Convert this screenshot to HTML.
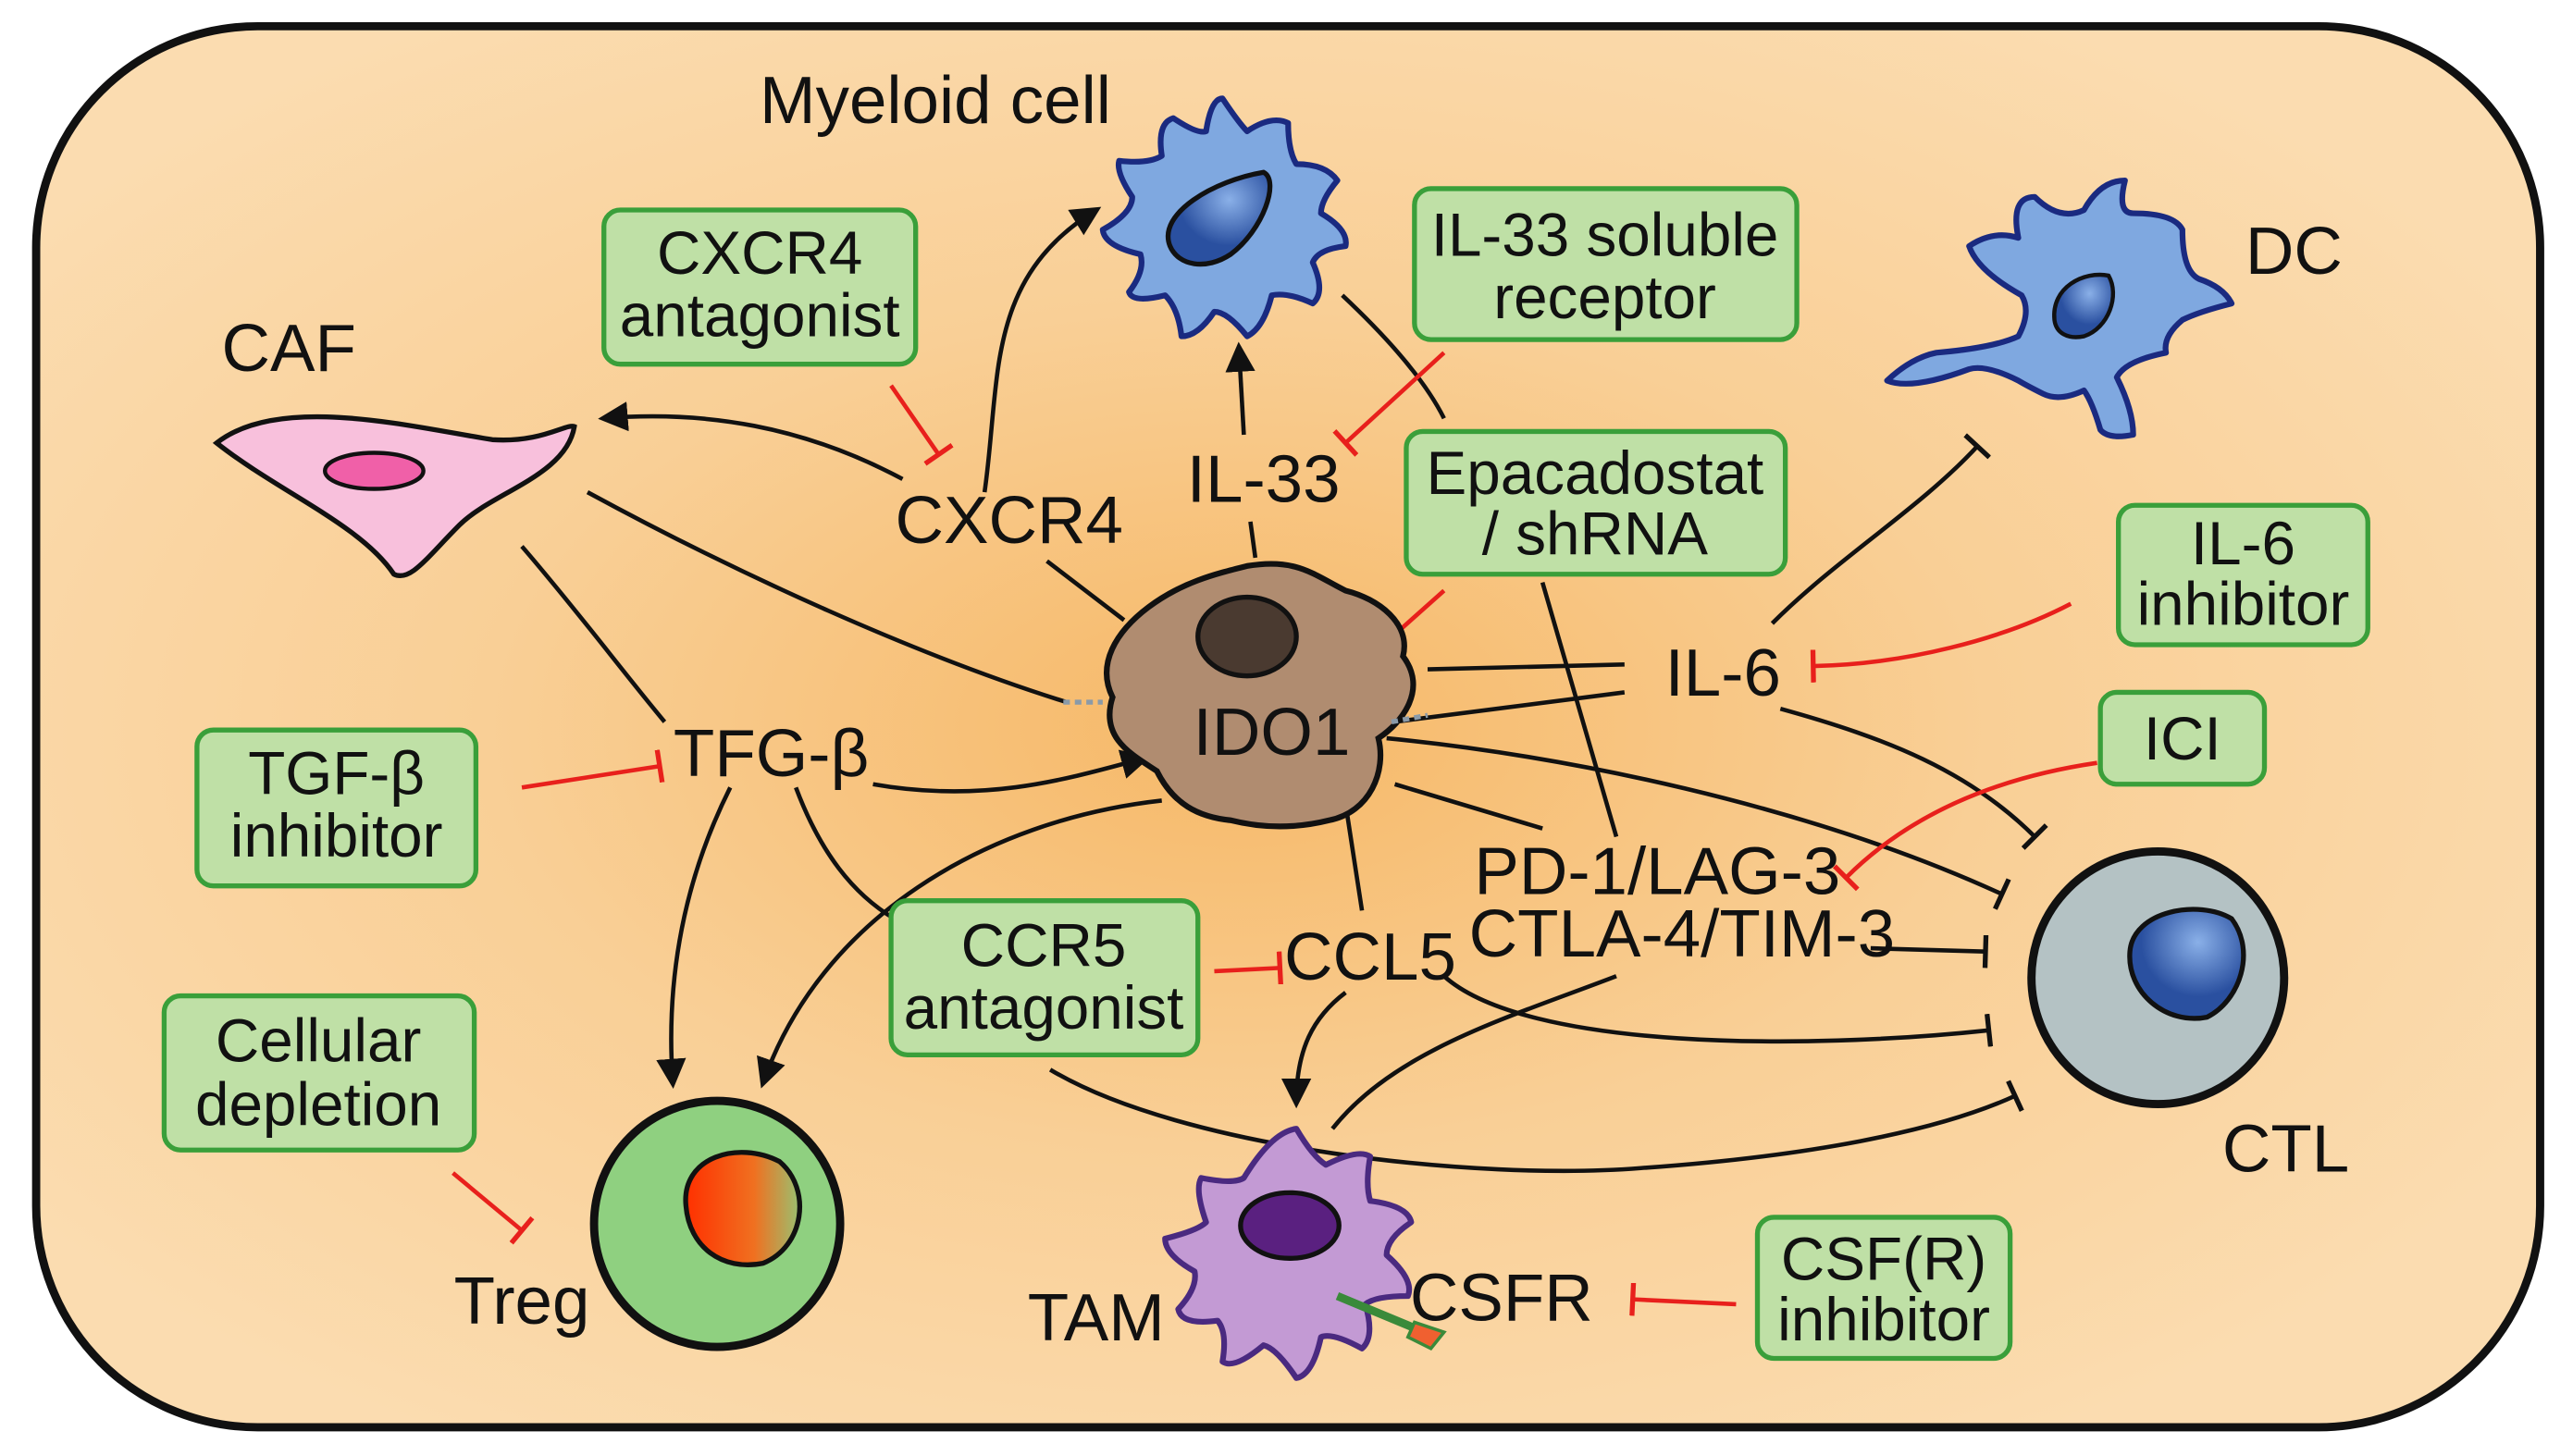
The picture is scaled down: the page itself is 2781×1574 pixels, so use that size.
<!DOCTYPE html>
<html><head><meta charset="utf-8"><style>
html,body{margin:0;padding:0;background:#fff;}
svg{display:block;}
text{font-family:"Liberation Sans",sans-serif;fill:#111;}
.box{fill:#bfe0a6;stroke:#3a9f3a;stroke-width:3;}
.bt{font-size:37px;text-anchor:middle;}
.lb{font-size:41px;text-anchor:middle;}
.k{fill:none;stroke:#111;stroke-width:2.6;}
.r{fill:none;stroke:#e8201c;stroke-width:2.6;}
</style></head><body>
<svg width="2781" height="1574" viewBox="0 0 1568 887.5" xmlns="http://www.w3.org/2000/svg">
<defs>
<radialGradient id="bg" cx="0.48" cy="0.5" r="0.6">
<stop offset="0" stop-color="#f6b867"/><stop offset="0.5" stop-color="#f9cf96"/><stop offset="1" stop-color="#fbdcb0"/>
</radialGradient>
<linearGradient id="tr" x1="0" x2="1"><stop offset="0" stop-color="#ff3000"/><stop offset="0.6" stop-color="#f07020"/><stop offset="1" stop-color="#9ac070"/></linearGradient>
<radialGradient id="nb" cx="0.6" cy="0.3"><stop offset="0" stop-color="#8ab0e8"/><stop offset="1" stop-color="#2a50a0"/></radialGradient>
<marker id="a" viewBox="0 0 10 10" refX="8" refY="5" markerWidth="7" markerHeight="7" orient="auto"><path d="M0,0 L10,5 L0,10 z" fill="#111"/></marker>
<marker id="t" viewBox="0 0 4 20" refX="2" refY="10" markerWidth="4" markerHeight="20" markerUnits="userSpaceOnUse" orient="auto"><path d="M2,0 L2,20" stroke="#111" stroke-width="3"/></marker>
<marker id="tr2" viewBox="0 0 4 20" refX="2" refY="10" markerWidth="4" markerHeight="20" markerUnits="userSpaceOnUse" orient="auto"><path d="M2,0 L2,20" stroke="#e8201c" stroke-width="3"/></marker>
</defs>
<rect x="22" y="16" width="1526" height="854" rx="135" fill="url(#bg)" stroke="#111" stroke-width="5"/>

<path class="k" d="M600,300 C610,230 600,170 668,128" marker-end="url(#a)"/>
<path class="k" d="M550,292 C490,260 430,250 368,255" marker-end="url(#a)"/>
<path class="k" d="M638,342 L685,378"/>
<path class="k" d="M358,300 C450,350 560,400 650,428"/>
<path class="k" d="M318,333 C350,370 380,410 405,440"/>
<path class="k" d="M765,340 L762,318"/>
<path class="k" d="M758,265 L755,212" marker-end="url(#a)"/>
<path class="k" d="M818,180 C850,210 870,235 880,255"/>
<path class="k" d="M940,355 L985,510"/>
<path class="k" d="M1080,380 C1120,340 1170,310 1205,272" marker-end="url(#t)"/>
<path class="k" d="M870,408 L990,405"/>
<path class="k" d="M850,440 L990,422"/>
<path class="k" d="M1085,432 C1150,450 1200,470 1240,510" marker-end="url(#t)"/>
<path class="k" d="M845,450 C950,460 1100,490 1220,545" marker-end="url(#t)"/>
<path class="k" d="M850,478 L940,505"/>
<path class="k" d="M1140,578 L1210,580" marker-end="url(#t)"/>
<path class="k" d="M532,478 C600,490 650,475 698,462" marker-end="url(#a)"/>
<path class="k" d="M445,480 C420,530 405,590 410,660" marker-end="url(#a)"/>
<path class="k" d="M485,480 C500,520 520,545 545,560"/>
<path class="k" d="M708,488 C600,500 500,560 465,660" marker-end="url(#a)"/>
<path class="k" d="M820,490 L830,555"/>
<path class="k" d="M820,605 C800,620 790,640 790,672" marker-end="url(#a)"/>
<path class="k" d="M880,595 C930,640 1100,640 1212,628" marker-end="url(#t)"/>
<path class="k" d="M985,595 C920,620 850,640 812,688"/>
<path class="k" d="M640,652 C720,700 900,720 1000,712 C1100,705 1180,690 1228,668" marker-end="url(#t)"/>

<path class="r" d="M543,235 L572,277" marker-end="url(#tr2)"/>
<path class="r" d="M880,215 L820,270" marker-end="url(#tr2)"/>
<path class="r" d="M880,360 L815,418" marker-end="url(#tr2)"/>
<path class="r" d="M1262,368 C1220,390 1160,405 1105,406" marker-end="url(#tr2)"/>
<path class="r" d="M1278,465 C1210,475 1160,500 1125,535" marker-end="url(#tr2)"/>
<path class="r" d="M318,480 L402,467" marker-end="url(#tr2)"/>
<path class="r" d="M740,592 L780,590" marker-end="url(#tr2)"/>
<path class="r" d="M276,715 L318,750" marker-end="url(#tr2)"/>
<path class="r" d="M1058,795 L995,792" marker-end="url(#tr2)"/>

<path d="M132,270 C170,240 250,260 300,268 C330,270 345,258 350,260 C345,290 300,300 280,320 C260,340 250,355 240,350 C220,320 170,300 132,270 z" fill="#f8c0dc" stroke="#111" stroke-width="3"/>
<ellipse cx="228" cy="287" rx="30" ry="11" fill="#f060a8" stroke="#111" stroke-width="2.5"/>

<path d="M745,60 Q755,75 760,80 Q775,70 785,75 Q785,92 790,100 Q808,100 815,110 Q805,122 805,130 Q822,140 820,150 Q803,152 800,160 Q808,178 800,185 Q785,178 775,180 Q770,200 760,205 Q748,190 740,190 Q730,205 720,205 Q718,188 710,180 Q690,185 688,178 Q698,165 695,155 Q673,150 672,140 Q690,130 690,120 Q680,105 682,98 Q700,100 708,95 Q705,75 715,72 Q730,82 735,80 Q738,60 745,60 z" fill="#7fa8e0" stroke="#1a2a80" stroke-width="3.5" stroke-linejoin="round"/>
<path d="M713,150 C705,130 740,110 770,105 C780,110 770,140 750,155 C735,165 718,162 713,150 z" fill="url(#nb)" stroke="#111" stroke-width="3"/>

<path d="M1200,150 Q1215,140 1230,145 Q1225,120 1240,120 Q1255,135 1270,128 Q1280,110 1295,110 Q1290,130 1300,130 Q1325,130 1330,140 Q1330,165 1340,170 Q1355,175 1360,185 Q1340,190 1330,195 Q1318,205 1320,215 Q1295,220 1290,230 Q1300,250 1300,265 Q1285,268 1280,262 Q1275,245 1270,238 Q1255,245 1245,240 Q1235,235 1230,232 Q1210,222 1200,225 Q1165,238 1150,232 Q1165,218 1180,215 Q1215,212 1230,205 Q1238,190 1232,180 Q1205,165 1200,150 z" fill="#7fa8e0" stroke="#1a2a80" stroke-width="3.5" stroke-linejoin="round"/>
<path d="M1252,195 C1250,175 1270,165 1285,168 C1292,180 1285,200 1270,205 C1260,207 1253,203 1252,195 z" fill="url(#nb)" stroke="#111" stroke-width="2.5"/>

<path d="M700,370 C720,355 740,350 760,345 C790,340 800,350 820,360 C840,365 860,380 855,400 C870,420 855,440 840,450 C845,470 835,495 810,500 C790,505 770,505 750,500 C730,498 715,490 705,470 C690,460 670,450 678,425 C668,405 680,385 700,370 z" fill="#b08c70" stroke="#111" stroke-width="3.5"/>
<ellipse cx="760" cy="388" rx="30" ry="24" fill="#4a3a30" stroke="#111" stroke-width="3"/>
<path d="M648,428 L672,428 M848,440 L870,436" stroke="#8a9aa8" stroke-width="3" stroke-dasharray="4 3"/>

<circle cx="1315" cy="596" r="77" fill="#b4c2c4" stroke="#111" stroke-width="5"/>
<path d="M1298,580 C1300,555 1340,548 1360,560 C1375,580 1365,610 1345,620 C1320,625 1296,605 1298,580 z" fill="url(#nb)" stroke="#111" stroke-width="3"/>

<circle cx="437" cy="746" r="75" fill="#8fd080" stroke="#111" stroke-width="5"/>
<path d="M418,735 C415,705 450,695 475,708 C495,725 490,760 465,770 C440,775 420,760 418,735 z" fill="url(#tr)" stroke="#111" stroke-width="3"/>

<path d="M790,688 Q800,705 808,710 Q828,700 835,705 Q832,722 835,732 Q858,735 860,745 Q845,755 845,765 Q862,780 858,790 Q838,790 832,795 Q838,815 830,822 Q812,812 805,815 Q800,838 790,840 Q778,822 770,820 Q752,835 745,830 Q748,812 742,805 Q720,808 718,798 Q730,785 728,775 Q710,765 710,755 Q730,750 735,745 Q728,725 732,718 Q752,722 758,718 Q775,690 790,688 z" fill="#c39ad4" stroke="#4a2a80" stroke-width="3.5" stroke-linejoin="round"/>
<ellipse cx="786" cy="747" rx="30" ry="20" fill="#5a2080" stroke="#111" stroke-width="3"/>
<path d="M815,790 L868,812" stroke="#3a8a3a" stroke-width="5"/>
<path d="M862,806 L880,812 L872,822 L858,815 z" fill="#f06030" stroke="#3a8a3a" stroke-width="2"/>

<rect class="box" x="368" y="128" width="190" height="94" rx="10"/>
<text class="bt" x="463" y="167">CXCR4</text><text class="bt" x="463" y="205">antagonist</text>
<rect class="box" x="862" y="115" width="233" height="92" rx="10"/>
<text class="bt" x="978" y="156">IL-33 soluble</text><text class="bt" x="978" y="194">receptor</text>
<rect class="box" x="857" y="263" width="231" height="87" rx="10"/>
<text class="bt" x="972" y="301">Epacadostat</text><text class="bt" x="972" y="338">/ shRNA</text>
<rect class="box" x="1291" y="308" width="152" height="85" rx="10"/>
<text class="bt" x="1367" y="344">IL-6</text><text class="bt" x="1367" y="381">inhibitor</text>
<rect class="box" x="1280" y="422" width="100" height="56" rx="10"/>
<text class="bt" x="1330" y="463">ICI</text>
<rect class="box" x="120" y="445" width="170" height="95" rx="10"/>
<text class="bt" x="205" y="484">TGF-β</text><text class="bt" x="205" y="522">inhibitor</text>
<rect class="box" x="543" y="549" width="187" height="94" rx="10"/>
<text class="bt" x="636" y="589">CCR5</text><text class="bt" x="636" y="627">antagonist</text>
<rect class="box" x="100" y="607" width="189" height="94" rx="10"/>
<text class="bt" x="194" y="647">Cellular</text><text class="bt" x="194" y="686">depletion</text>
<rect class="box" x="1071" y="742" width="154" height="86" rx="10"/>
<text class="bt" x="1148" y="780">CSF(R)</text><text class="bt" x="1148" y="817">inhibitor</text>

<text class="lb" x="570" y="75">Myeloid cell</text>
<text class="lb" x="1398" y="167">DC</text>
<text class="lb" x="176" y="226">CAF</text>
<text class="lb" x="615" y="331">CXCR4</text>
<text class="lb" x="770" y="306">IL-33</text>
<text class="lb" x="1050" y="424">IL-6</text>
<text class="lb" x="470" y="473">TFG-β</text>
<text class="lb" x="775" y="460">IDO1</text>
<text class="lb" x="1010" y="545">PD-1/LAG-3</text>
<text class="lb" x="1025" y="583">CTLA-4/TIM-3</text>
<text class="lb" x="835" y="597">CCL5</text>
<text class="lb" x="1393" y="714">CTL</text>
<text class="lb" x="318" y="807">Treg</text>
<text class="lb" x="668" y="817">TAM</text>
<text class="lb" x="915" y="805">CSFR</text>
</svg>
</body></html>
